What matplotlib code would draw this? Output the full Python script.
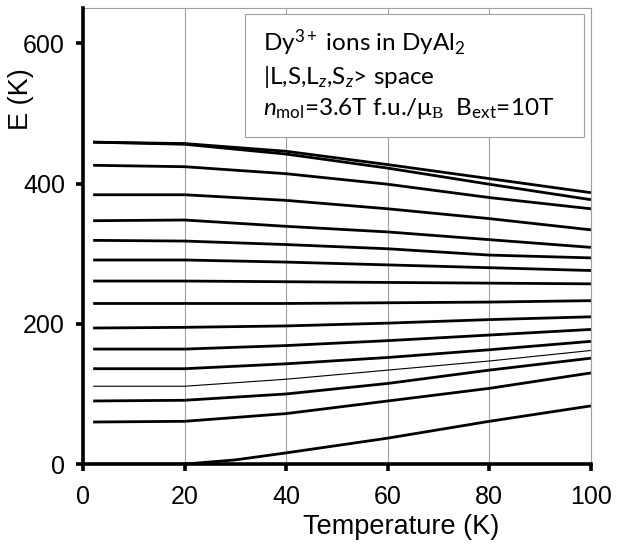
#!/usr/bin/env python3
"""Energy levels of Dy3+ ions in DyAl2 versus temperature."""

import matplotlib

matplotlib.use("Agg")
import matplotlib.pyplot as plt
from matplotlib.patches import Rectangle
import numpy as np

TEMPS = [2, 20, 40, 60, 80, 100]

# energy levels (K), top to bottom, read at TEMPS
LEVELS = [
    [459, 457, 446, 427, 407, 387],
    [459, 456, 442, 422, 399, 377],
    [426, 424, 414, 399, 380, 364],
    [384, 384, 376, 364, 350, 334],
    [347, 348, 339, 331, 320, 309],
    [319, 318, 313, 307, 298, 294],
    [291, 291, 288, 284, 280, 276],
    [261, 261, 260, 259, 258, 257],
    [229, 229, 229, 230, 231, 233],
    [194, 195, 197, 201, 206, 210],
    [164, 164, 169, 176, 184, 192],
    [136, 136, 143, 152, 163, 175],
    [111, 111, 121, 134, 147, 162],
    [90, 91, 100, 115, 134, 151],
    [60, 61, 72, 90, 108, 130],
]
THIN_LEVEL = 12

GROUND_TEMPS = [2, 20, 30, 40, 60, 80, 100]
GROUND_LEVEL = [0, 0, 6, 16, 37, 61, 83]


def main() -> None:
    plt.rcParams["font.family"] = ["Liberation Sans", "DejaVu Sans"]
    plt.rcParams["mathtext.fontset"] = "custom"
    plt.rcParams["mathtext.rm"] = "Lato"
    plt.rcParams["mathtext.it"] = "Lato:italic"
    plt.rcParams["mathtext.sf"] = "Liberation Serif"

    fig = plt.figure(figsize=(6.24, 5.46), dpi=100)
    ax = fig.add_axes([0.133, 0.150, 0.814, 0.835])

    for i, level in enumerate(LEVELS):
        lw = 0.8 if i == THIN_LEVEL else 2.0
        ax.plot(TEMPS, level, color="black", lw=lw, solid_capstyle="butt")
    ax.plot(GROUND_TEMPS, GROUND_LEVEL, color="black", lw=2.0, solid_capstyle="butt")

    ax.set_xlim(0, 100)
    ax.set_ylim(0, 650)
    ax.set_xticks(np.arange(0, 101, 20))
    ax.set_yticks([0, 200, 400, 600])
    ax.grid(axis="x", color="#a0a0a0", lw=0.8)
    ax.set_axisbelow(True)

    for side in ("left", "bottom"):
        ax.spines[side].set_linewidth(2.6)
        ax.spines[side].set_zorder(5)
    for side in ("top", "right"):
        ax.spines[side].set_linewidth(0.8)
        ax.spines[side].set_color("#a0a0a0")

    ax.tick_params(axis="both", direction="out", length=5, width=2.6, labelsize=18)
    ax.tick_params(axis="x", pad=10)
    ax.tick_params(axis="y", pad=8)

    ax.set_xlabel("Temperature (K)", fontsize=19.5)
    ax.xaxis.set_label_coords(0.626, -0.110)
    ax.set_ylabel("E (K)", fontsize=19.5)
    ax.yaxis.set_label_coords(-0.096, 0.80)

    ax.add_patch(
        Rectangle(
            (0.319, 0.717),
            0.667,
            0.270,
            transform=ax.transAxes,
            facecolor="white",
            edgecolor="#a0a0a0",
            lw=0.8,
            zorder=6,
            clip_on=False,
        )
    )
    text = (
        "Dy$^{3+}$ ions in DyAl$_2$\n"
        "|L,S,L$_z$,S$_z$> space\n"
        "$n_{\\mathrm{mol}}$=3.6T f.u./$\\mathrm{\\mu}_{\\mathsf{B}}$  B$_{\\mathrm{ext}}$=10T"
    )
    ax.text(
        0.354,
        0.958,
        text,
        transform=ax.transAxes,
        ha="left",
        va="top",
        fontsize=17.5,
        family=["Lato", "DejaVu Sans"],
        linespacing=1.32,
        zorder=7,
    )

    fig.savefig("out.png", dpi=100)
    plt.close(fig)


if __name__ == "__main__":
    main()
